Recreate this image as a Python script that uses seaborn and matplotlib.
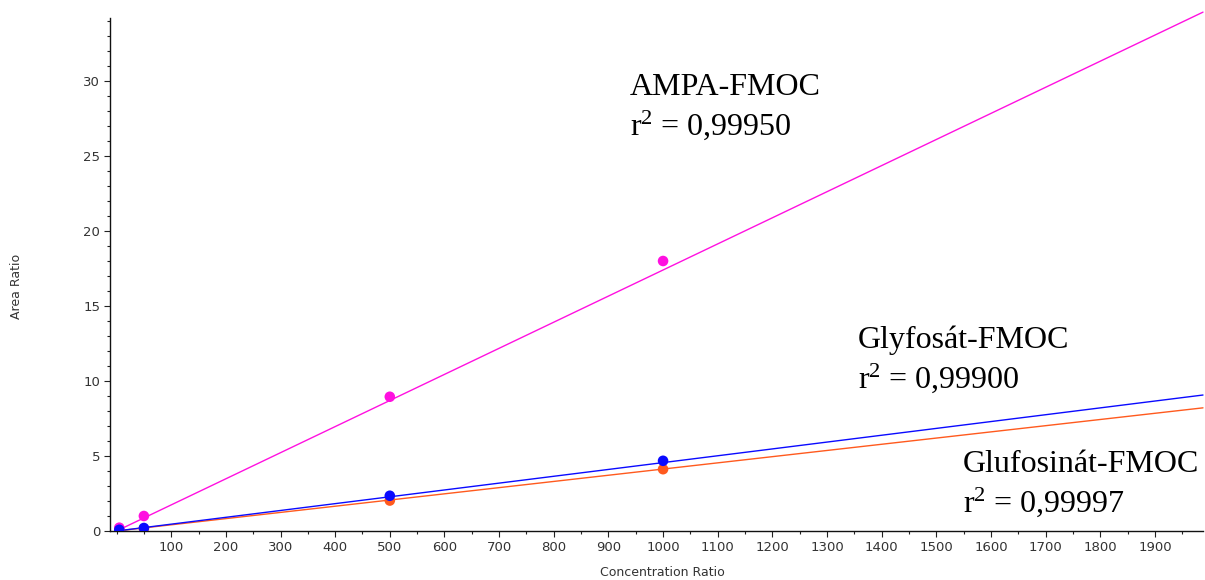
import numpy as np
import pandas as pd
import matplotlib
matplotlib.use("Agg")
import matplotlib.pyplot as plt
from matplotlib.ticker import MultipleLocator, FixedLocator
import seaborn as sns

# ---- data ----
concentration = [5, 50, 500, 1000]
ampa = [0.22, 1.0, 8.95, 18.0]
glyfosat = [0.08, 0.2, 2.35, 4.68]
glufosinat = [0.03, 0.15, 2.03, 4.12]

compounds = ["AMPA-FMOC", "Glyfosát-FMOC", "Glufosinát-FMOC"]
fit_slope = [0.01740, 0.00456, 0.00413]
fit_intercept = [0.0, 0.0, 0.0]
r_squared = ["0,99950", "0,99900", "0,99997"]

x_ticks = list(range(100, 2000, 100))
y_ticks = [0, 5, 10, 15, 20, 25, 30]

colors = ["#ff10e0", "#0a0aff", "#ff5a1e"]

sns.set_theme(style="white")
plt.rcParams["font.family"] = ["DejaVu Sans"]
plt.rcParams["mathtext.fontset"] = "custom"
plt.rcParams["mathtext.rm"] = "Liberation Serif"
plt.rcParams["mathtext.it"] = "Liberation Serif:italic"

W, H = 1205, 580
fig = plt.figure(figsize=(W / 100, H / 100), dpi=100)
ax = fig.add_axes([110 / W, 49 / H, (1203 - 110) / W, (531 - 18) / H])

xmin, xmax = -12, 1988
ymin, ymax = 0, 34.2

palette = dict(zip(compounds, colors))
series = dict(zip(compounds, [ampa, glyfosat, glufosinat]))
# draw order: magenta, orange, then blue on top (as in the reference)
draw_order = ["AMPA-FMOC", "Glufosinát-FMOC", "Glyfosát-FMOC"]

pts = pd.DataFrame({
    "x": concentration * 3,
    "y": sum((series[c] for c in draw_order), []),
    "compound": [c for c in draw_order for _ in concentration],
})

xfit = np.array([0, xmax])
fit_rows = []
for c in draw_order:
    i = compounds.index(c)
    for xv in xfit:
        fit_rows.append({"x": xv, "y": fit_slope[i] * xv + fit_intercept[i], "compound": c})
fits = pd.DataFrame(fit_rows)

sns.lineplot(data=fits, x="x", y="y", hue="compound", hue_order=draw_order,
             palette=palette, linewidth=1.0, legend=False, ax=ax, zorder=2)
for ln in ax.get_lines():
    ln.set_clip_on(False)
sns.scatterplot(data=pts, x="x", y="y", hue="compound", hue_order=draw_order,
                palette=palette, s=58, linewidth=0, legend=False, ax=ax, zorder=3)

ax.set_xlim(xmin, xmax)
ax.set_ylim(ymin, ymax)
ax.xaxis.set_major_locator(FixedLocator(x_ticks))
ax.xaxis.set_minor_locator(MultipleLocator(50))
ax.yaxis.set_major_locator(FixedLocator(y_ticks))
ax.yaxis.set_minor_locator(MultipleLocator(1))
ax.tick_params(axis="both", which="major", direction="out", length=4, width=0.8,
               colors="#222222", labelsize=9.5, labelcolor="#333333", pad=3,
               bottom=True, left=True)
ax.tick_params(axis="both", which="minor", direction="out", length=2.5, width=0.8,
               colors="#222222", bottom=True, left=True)
for side in ["top", "right"]:
    ax.spines[side].set_visible(False)
for side in ["left", "bottom"]:
    ax.spines[side].set_color("#111111")
    ax.spines[side].set_linewidth(1.0)

ax.set_xlabel("Concentration Ratio", fontsize=9, color="#333333")
ax.set_ylabel("Area Ratio", fontsize=9, color="#333333")
axw = (1203 - 110)
axh = (531 - 18)
ax.xaxis.set_label_coords((662 - 110) / axw, -(573 - 531) / axh)
ax.yaxis.set_label_coords(-(110 - 16) / axw, (531 - 286) / axh)
ax.xaxis.label.set_va("center")
ax.yaxis.label.set_va("center")

label_pos = [(630, 95), (858, 348), (963, 472)]
for (px, py), name, r2 in zip(label_pos, compounds, r_squared):
    fx = px / W
    fy = 1 - py / H
    fig.text(fx, fy, name, fontsize=23, family="Liberation Serif", color="black",
             va="baseline", ha="left")
    fig.text(fx, fy - 40 / H, "r$^{2}$ = " + r2, fontsize=23,
             family="Liberation Serif", color="black", va="baseline", ha="left")

fig.savefig("out.png", dpi=100, facecolor="white")
